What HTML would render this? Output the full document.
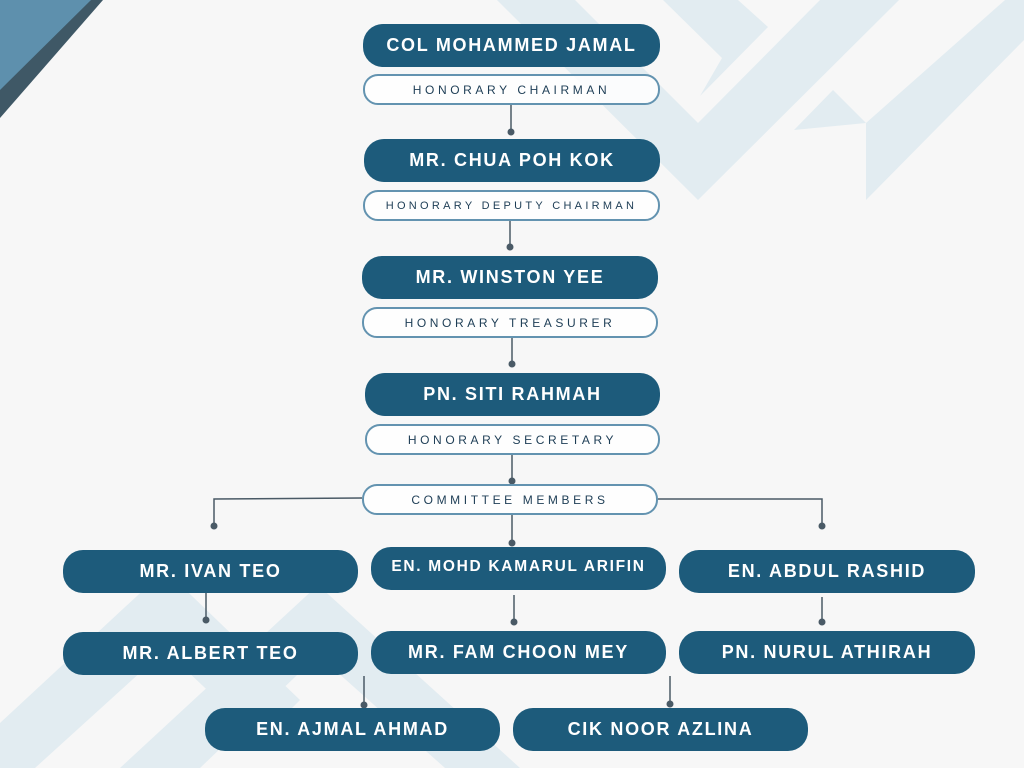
<!DOCTYPE html>
<html><head><meta charset="utf-8"><style>
html,body{margin:0;padding:0}
body{width:1024px;height:768px;background:#f7f7f7;position:relative;overflow:hidden;font-family:"Liberation Sans",sans-serif}
svg.bg{position:absolute;left:0;top:0}
.p{position:absolute;background:#1d5b7b;color:#fff;border-radius:20px;font-weight:bold;font-size:18px;letter-spacing:1.7px;display:flex;align-items:center;justify-content:center;white-space:nowrap}
.s{position:absolute;background:rgba(255,255,255,0.85);border:2px solid #6393b0;box-sizing:border-box;border-radius:15px;color:#1d3d55;font-size:12px;letter-spacing:3.6px;display:flex;align-items:center;justify-content:center;white-space:nowrap}
</style></head><body>
<svg class="bg" width="1024" height="768">
<g fill="#e2ecf1">
<polygon points="497,0 575,0 698,123 820,0 899,0 698,200"/>
<polygon points="663,0 738,0 768,27 700,96 722,58"/>
<polygon points="794,130 833,90 866,123 1005,0 1024,0 1024,40 866,200 866,123"/>
<polygon points="0,723 165,570 300,700 260,740 165,650 35,768 0,768"/>
<polygon points="120,768 318,585 520,768 445,768 318,655 200,768"/>
</g>
<polygon points="0,0 103,0 0,118" fill="#3f5866"/>
<polygon points="0,0 91,0 0,90" fill="#5e90ad"/>
<g stroke="#4a5a66" stroke-width="1.5" fill="none">
<line x1="511" y1="104" x2="511" y2="132"/>
<line x1="510" y1="220" x2="510" y2="247"/>
<line x1="512" y1="337" x2="512" y2="364"/>
<line x1="512" y1="454" x2="512" y2="481"/>
<polyline points="362,498 214,499 214,526"/>
<polyline points="658,499 822,499 822,526"/>
<line x1="512" y1="514" x2="512" y2="543"/>
<line x1="206" y1="593" x2="206" y2="620"/>
<line x1="514" y1="595" x2="514" y2="622"/>
<line x1="822" y1="597" x2="822" y2="622"/>
<line x1="364" y1="676" x2="364" y2="705"/>
<line x1="670" y1="676" x2="670" y2="704"/>
</g>
<g fill="#4a5a66">
<circle cx="511" cy="132" r="3.5"/><circle cx="510" cy="247" r="3.5"/><circle cx="512" cy="364" r="3.5"/><circle cx="512" cy="481" r="3.5"/>
<circle cx="214" cy="526" r="3.5"/><circle cx="822" cy="526" r="3.5"/><circle cx="512" cy="543" r="3.5"/>
<circle cx="206" cy="620" r="3.5"/><circle cx="514" cy="622" r="3.5"/><circle cx="822" cy="622" r="3.5"/>
<circle cx="364" cy="705" r="3.5"/><circle cx="670" cy="704" r="3.5"/>
</g>
</svg>
<div class="p" style="left:363px;top:24px;width:297px;height:43px">COL MOHAMMED JAMAL</div>
<div class="s" style="left:363px;top:74px;width:297px;height:31px">HONORARY CHAIRMAN</div>
<div class="p" style="left:364px;top:139px;width:296px;height:43px">MR. CHUA POH KOK</div>
<div class="s" style="left:363px;top:190px;width:297px;height:31px;font-size:11px;letter-spacing:3.3px">HONORARY DEPUTY CHAIRMAN</div>
<div class="p" style="left:362px;top:256px;width:296px;height:43px">MR. WINSTON YEE</div>
<div class="s" style="left:362px;top:307px;width:296px;height:31px">HONORARY TREASURER</div>
<div class="p" style="left:365px;top:373px;width:295px;height:43px">PN. SITI RAHMAH</div>
<div class="s" style="left:365px;top:424px;width:295px;height:31px">HONORARY SECRETARY</div>
<div class="s" style="left:362px;top:484px;width:296px;height:31px">COMMITTEE MEMBERS</div>
<div class="p" style="left:63px;top:550px;width:295px;height:43px">MR. IVAN TEO</div>
<div class="p" style="left:371px;top:547px;width:295px;height:43px;font-size:15.5px;padding-bottom:4px;box-sizing:border-box">EN. MOHD KAMARUL ARIFIN</div>
<div class="p" style="left:679px;top:550px;width:296px;height:43px">EN. ABDUL RASHID</div>
<div class="p" style="left:63px;top:632px;width:295px;height:43px">MR. ALBERT TEO</div>
<div class="p" style="left:371px;top:631px;width:295px;height:43px">MR. FAM CHOON MEY</div>
<div class="p" style="left:679px;top:631px;width:296px;height:43px">PN. NURUL ATHIRAH</div>
<div class="p" style="left:205px;top:708px;width:295px;height:43px">EN. AJMAL AHMAD</div>
<div class="p" style="left:513px;top:708px;width:295px;height:43px">CIK NOOR AZLINA</div>
</body></html>
